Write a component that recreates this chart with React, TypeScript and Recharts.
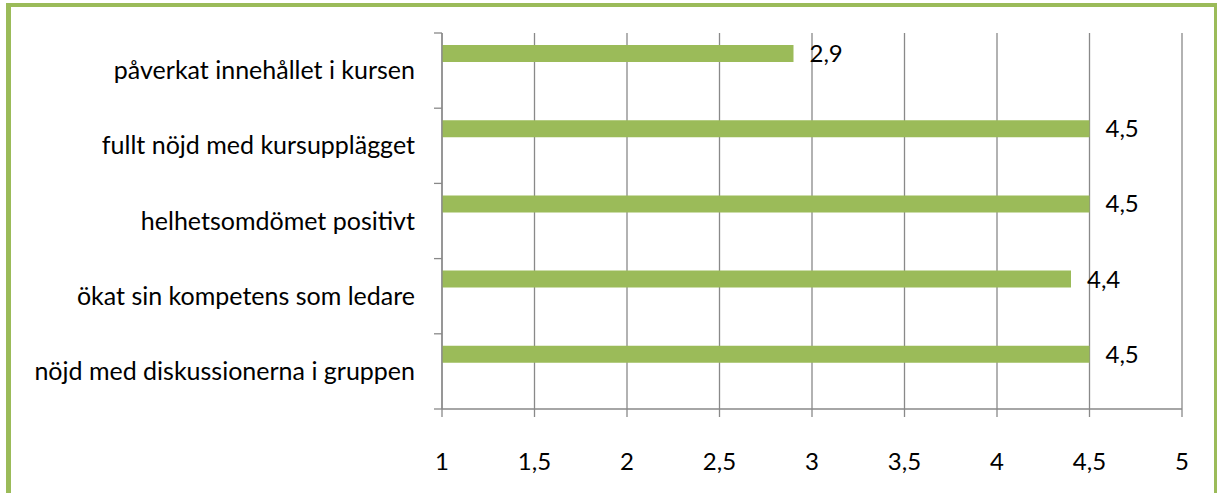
import React from "react";
import { BarChart, Bar, XAxis, YAxis, CartesianGrid, LabelList } from "recharts";

const categories = [
  "påverkat innehållet i kursen",
  "fullt nöjd med kursupplägget",
  "helhetsomdömet positivt",
  "ökat sin kompetens som ledare",
  "nöjd med diskussionerna i gruppen",
];
const values = [2.9, 4.5, 4.5, 4.4, 4.5];
const xTicks = [1, 1.5, 2, 2.5, 3, 3.5, 4, 4.5, 5];

const data = categories.map((name, i) => ({ name, a: values[i], b: null, c: null }));

const GREEN = "#9BBB59";
const GRAY = "#898989";
const FONT = "Lato, 'Open Sans', sans-serif";
const FS = 24;
const CAT_FS = 25;
const Y_TICK_SIZE = 8;
const Y_TICK_MARGIN = 19;
const fmt = (v: any) => String(v).replace(".", ",");

const CategoryTick = (props: any) => {
  const { x, y, payload, index, visibleTicksCount } = props;
  const half = payload && typeof payload.offset === "number" && payload.offset > 0 ? payload.offset : 37.6;
  const ax = x + Y_TICK_SIZE + Y_TICK_MARGIN;
  const isLast = index === visibleTicksCount - 1;
  return (
    <g>
      <line x1={ax - Y_TICK_SIZE} x2={ax} y1={y - half} y2={y - half} stroke={GRAY} strokeWidth={1.3} />
      {isLast && <line x1={ax - Y_TICK_SIZE} x2={ax} y1={y + half} y2={y + half} stroke={GRAY} strokeWidth={1.3} />}
      <text x={x} y={y} dy="0.34em" textAnchor="end" fill="#000" fontSize={CAT_FS} fontFamily={FONT}>
        {payload.value}
      </text>
    </g>
  );
};

export default function App() {
  return (
    <div style={{ position: "absolute", left: 0, top: 0, width: 1217, height: 493, overflow: "hidden", background: "#fff" }}>
      <div
        style={{
          position: "absolute",
          left: 6,
          top: 3,
          width: 1211,
          height: 490,
          boxSizing: "border-box",
          borderTop: `4px solid ${GREEN}`,
          borderLeft: `5px solid ${GREEN}`,
          borderRight: `3px solid ${GREEN}`,
        }}
      />
      <div style={{ position: "absolute", left: 0, top: 0 }}>
        <BarChart
          width={1217}
          height={493}
          data={data}
          layout="vertical"
          margin={{ top: 33, right: 35, bottom: 0, left: 0 }}
          barGap={0}
          barSize={17}
          style={{ fontFamily: FONT }}
        >
          <CartesianGrid horizontal={false} stroke={GRAY} strokeWidth={1.3} />
          <XAxis
            type="number"
            dataKey="a"
            domain={[1, 5]}
            ticks={xTicks}
            allowDataOverflow
            tickFormatter={fmt}
            height={84}
            tickSize={8}
            tickMargin={36}
            axisLine={{ stroke: GRAY, strokeWidth: 1.3 }}
            tickLine={{ stroke: GRAY, strokeWidth: 1.3 }}
            tick={{ fill: "#000", fontSize: FS, fontFamily: FONT }}
          />
          <YAxis
            type="category"
            dataKey="name"
            width={442}
            tickSize={Y_TICK_SIZE}
            tickMargin={Y_TICK_MARGIN}
            axisLine={{ stroke: GRAY, strokeWidth: 1.3 }}
            tickLine={false}
            tick={<CategoryTick />}
            interval={0}
          />
          <Bar dataKey="a" fill={GREEN} isAnimationActive={false}>
            <LabelList dataKey="a" position="right" offset={16} formatter={fmt} fill="#000" fontSize={FS} fontFamily={FONT} />
          </Bar>
          <Bar dataKey="b" fill={GREEN} isAnimationActive={false} />
          <Bar dataKey="c" fill={GREEN} isAnimationActive={false} />
        </BarChart>
      </div>
    </div>
  );
}
